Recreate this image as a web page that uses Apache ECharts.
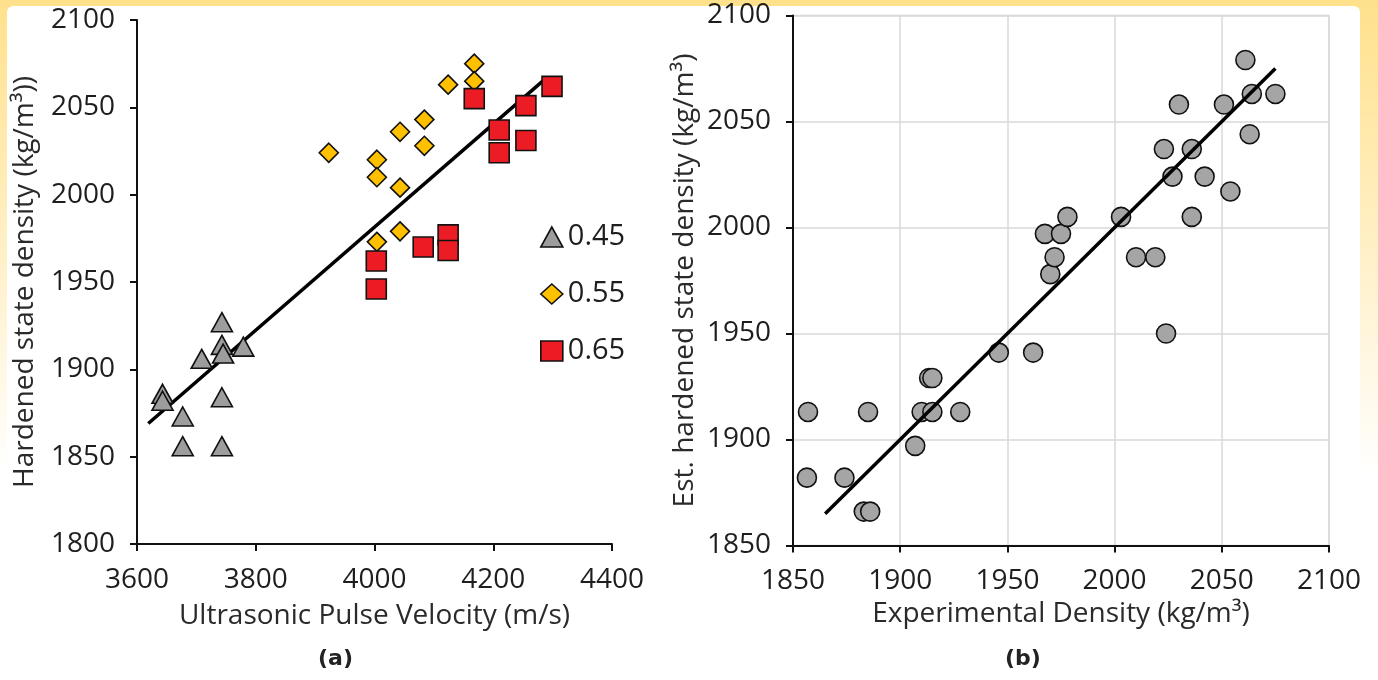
<!DOCTYPE html>
<html>
<head>
<meta charset="utf-8">
<script src="https://cdn.jsdelivr.net/npm/echarts@6/dist/echarts.min.js"></script>
<style>
	html, body { margin: 0; padding: 0; }
	#chart { width: 1378px; height: 680px; }
</style>
</head>
<body>
<div id="chart"></div>
<script>
// (a) hardened density vs UPV, grouped by w/c ratio
const tri045 = [[3743, 1927], [3743, 1914], [3745, 1909], [3709, 1906], [3779, 1913], [3643, 1886], [3643, 1882], [3677, 1873], [3743, 1884], [3677, 1856], [3743, 1856]];
const dia055 = [[3923, 2024], [4004, 2020], [4004, 2010], [4004, 1973], [4043, 2036], [4043, 2004], [4043, 1979], [4084, 2043], [4084, 2028], [4124, 2063], [4168, 2075], [4168, 2065]];
const sq065 = [[4003, 1962], [4003, 1946], [4082, 1970], [4124, 1977], [4124, 1968], [4168, 2055], [4210, 2037], [4210, 2024], [4255, 2051], [4255, 2031], [4299, 2062]];
const fitA = [[3619, 1869], [4290, 2067]];

// (b) estimated vs experimental density
const estPts = [
	[1857, 1913], [1885, 1913], [1910, 1913], [1915, 1913], [1928, 1913],
	[1856.5, 1882], [1874, 1882], [1883, 1866], [1886, 1866], [1907, 1897],
	[1913.5, 1929], [1915, 1929], [1946, 1941], [1962, 1941], [1970, 1978],
	[1972, 1986], [1967.5, 1997], [1975, 1997], [1978, 2005], [2003, 2005],
	[2036, 2005], [2010, 1986], [2019, 1986], [2024, 1950], [2023, 2037],
	[2036, 2037], [2027, 2024], [2042, 2024], [2054, 2017], [2030, 2058],
	[2051, 2058], [2063, 2044], [2061, 2079], [2064, 2063], [2075, 2063]
];
const fitB = [[1865, 1865], [2075, 2075]];

const xTicksA = [3600, 4400, 200];
const yTicksA = [1800, 2100, 50];
const xTicksB = [1850, 2100, 50];
const yTicksB = [1850, 2100, 50];

const fontName = 'Open Sans';
const ink = '#1e1e1e';

function axisBase(ticks) {
	return {
		type: 'value',
		min: ticks[0],
		max: ticks[1],
		interval: ticks[2],
		axisLine: { show: true, onZero: false, lineStyle: { color: '#111', width: 2 } },
		axisTick: { show: true, inside: false, length: 7, lineStyle: { color: '#111', width: 2 } },
		axisLabel: { color: ink, fontFamily: fontName, fontSize: 28, margin: 22, formatter: (v) => String(v) },
		nameLocation: 'middle',
		nameTextStyle: { color: '#2a2a2a', fontFamily: fontName, fontSize: 28 },
	};
}

let chart = echarts.init(document.getElementById('chart'));

let option = {
	backgroundColor: {
		type: 'linear', x: 0, y: 0, x2: 0, y2: 1,
		colorStops: [
			{ offset: 0, color: '#FFE18C' },
			{ offset: 0.35, color: '#FFEFC4' },
			{ offset: 0.7, color: '#ffffff' },
			{ offset: 1, color: '#ffffff' },
		],
	},
	animation: false,
	graphic: [
		{ type: 'rect', z: -10, shape: { x: 7, y: 6, width: 1353, height: 700, r: 6 }, style: { fill: '#ffffff' } },
		{ type: 'text', left: 318, top: 648, style: { text: '(a)', font: 'bold 22px "DejaVu Sans"', fill: '#222' } },
		{ type: 'text', left: 1005, top: 648, style: { text: '(b)', font: 'bold 22px "DejaVu Sans"', fill: '#222' } },
	],
	grid: [
		{ left: 137, top: 20, width: 475, height: 524 },
		{ left: 793, top: 15.5, width: 536, height: 530, show: true, borderColor: '#d9d9d9', borderWidth: 1.5, backgroundColor: 'transparent' },
	],
	legend: {
		left: 535,
		top: 216,
		orient: 'vertical',
		itemGap: 25,
		itemWidth: 22,
		itemHeight: 20,
		itemStyle: { borderColor: '#111', borderWidth: 1.6 },
		data: ['0.45', '0.55', '0.65'],
		textStyle: { color: ink, fontFamily: fontName, fontSize: 29, lineHeight: 32, padding: [0, 0, 0, 0] },
	},
	xAxis: [
		Object.assign(axisBase(xTicksA), { gridIndex: 0, name: 'Ultrasonic Pulse Velocity (m/s)', nameGap: 58, splitLine: { show: false } }),
		Object.assign(axisBase(xTicksB), { gridIndex: 1, name: 'Experimental Density (kg/m³)', nameGap: 53, splitLine: { show: true, lineStyle: { color: '#d9d9d9', width: 1.5 } } }),
	],
	yAxis: [
		Object.assign(axisBase(yTicksA), { gridIndex: 0, name: 'Hardened state density (kg/m³))', nameGap: 98, splitLine: { show: false } }),
		Object.assign(axisBase(yTicksB), { gridIndex: 1, name: 'Est. hardened state density (kg/m³)', nameGap: 94, splitLine: { show: true, lineStyle: { color: '#d9d9d9', width: 1.5 } } }),
	],
	series: [
		{
			name: 'fitA', type: 'line', xAxisIndex: 0, yAxisIndex: 0, data: fitA,
			symbol: 'none', lineStyle: { color: '#000', width: 3.5 }, z: 1,
		},
		{
			name: '0.45', type: 'scatter', xAxisIndex: 0, yAxisIndex: 0, data: tri045,
			symbol: 'triangle', symbolSize: [21, 19],
			itemStyle: { color: '#9d9d9d', borderColor: '#111', borderWidth: 1.6, opacity: 1 },
		},
		{
			name: '0.55', type: 'scatter', xAxisIndex: 0, yAxisIndex: 0, data: dia055,
			symbol: 'diamond', symbolSize: [19, 19],
			itemStyle: { color: '#FFC000', borderColor: '#111', borderWidth: 1.6, opacity: 1 },
		},
		{
			name: '0.65', type: 'scatter', xAxisIndex: 0, yAxisIndex: 0, data: sq065,
			symbol: 'rect', symbolSize: [20, 20],
			itemStyle: { color: '#EC1C24', borderColor: '#111', borderWidth: 1.6, opacity: 1 },
		},
		{
			name: 'est', type: 'scatter', xAxisIndex: 1, yAxisIndex: 1, data: estPts,
			symbol: 'circle', symbolSize: 19,
			itemStyle: { color: '#a5a5a5', borderColor: '#111', borderWidth: 1.6, opacity: 1 },
		},
		{
			name: 'fitB', type: 'line', xAxisIndex: 1, yAxisIndex: 1, data: fitB,
			symbol: 'none', lineStyle: { color: '#000', width: 3.5 }, z: 3,
		},
	],
};

chart.setOption(option);
</script>
</body>
</html>
